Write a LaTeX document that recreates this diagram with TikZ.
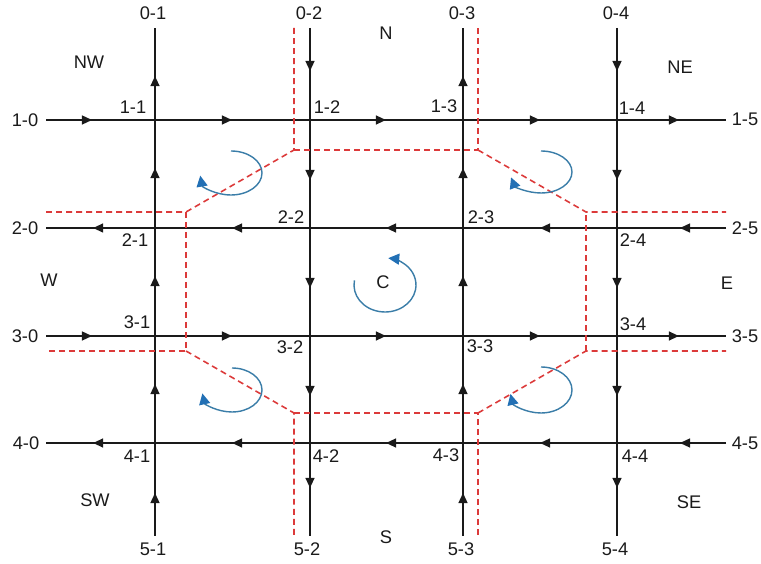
\documentclass[tikz,border=0pt]{standalone}
\usepackage{fontspec}
\setmainfont{Liberation Sans}
\usetikzlibrary{arrows.meta,decorations.markings}
\definecolor{roadblack}{HTML}{1A1A1A}
\definecolor{zonered}{HTML}{DC3A3A}
\definecolor{turnblue}{HTML}{3A7DA8}
\definecolor{tipblue}{HTML}{2270B5}
\tikzset{
  % roads
  hroad/.style={draw=roadblack,line width=0.75pt,postaction={decorate},
    decoration={markings,
      mark=at position 0.92cm with {\arrow{Triangle[length=2mm,width=1.8mm]}},
      mark=at position 3.72cm with {\arrow{Triangle[length=2mm,width=1.8mm]}},
      mark=at position 6.8cm with {\arrow{Triangle[length=2mm,width=1.8mm]}},
      mark=at position 9.88cm with {\arrow{Triangle[length=2mm,width=1.8mm]}},
      mark=at position 12.66cm with {\arrow{Triangle[length=2mm,width=1.8mm]}}}},
  vroad/.style={draw=roadblack,line width=0.75pt,postaction={decorate},
    decoration={markings,
      mark=at position 0.86cm with {\arrow{Triangle[length=2mm,width=1.8mm]}},
      mark=at position 3.04cm with {\arrow{Triangle[length=2mm,width=1.8mm]}},
      mark=at position 5.2cm with {\arrow{Triangle[length=2mm,width=1.8mm]}},
      mark=at position 7.36cm with {\arrow{Triangle[length=2mm,width=1.8mm]}},
      mark=at position 9.2cm with {\arrow{Triangle[length=2mm,width=1.8mm]}}}},
  % zones
  zone/.style={draw=zonered,line width=0.9pt,dash pattern=on 3.4pt off 2.3pt},
  turn/.style={draw=turnblue,line width=0.8pt,
               -{Triangle[length=2.2mm,width=2.2mm,color=tipblue]}},
  lbl/.style={font=\fontsize{10.4}{12}\selectfont,text=roadblack,inner sep=1pt},
}
\begin{document}
\begin{tikzpicture}[x=0.02cm,y=0.02cm]
  \useasboundingbox (0,0) rectangle (761,564);
  % grid points
  \coordinate (p01) at (155,536);
  \coordinate (p02) at (310,536);
  \coordinate (p03) at (463,536);
  \coordinate (p04) at (617,536);
  \coordinate (p10) at (46,444);
  \coordinate (p11) at (155,444);
  \coordinate (p12) at (310,444);
  \coordinate (p13) at (463,444);
  \coordinate (p14) at (617,444);
  \coordinate (p15) at (726,444);
  \coordinate (p20) at (46,336);
  \coordinate (p21) at (155,336);
  \coordinate (p22) at (310,336);
  \coordinate (p23) at (463,336);
  \coordinate (p24) at (617,336);
  \coordinate (p25) at (726,336);
  \coordinate (p30) at (46,228);
  \coordinate (p31) at (155,228);
  \coordinate (p32) at (310,228);
  \coordinate (p33) at (463,228);
  \coordinate (p34) at (617,228);
  \coordinate (p35) at (726,228);
  \coordinate (p40) at (46,121);
  \coordinate (p41) at (155,121);
  \coordinate (p42) at (310,121);
  \coordinate (p43) at (463,121);
  \coordinate (p44) at (617,121);
  \coordinate (p45) at (726,121);
  \coordinate (p51) at (155,28);
  \coordinate (p52) at (310,28);
  \coordinate (p53) at (463,28);
  \coordinate (p54) at (617,28);
  % roads
  \draw[hroad] (p10) -- (p11) -- (p12) -- (p13) -- (p14) -- (p15);
  \draw[hroad] (p25) -- (p24) -- (p23) -- (p22) -- (p21) -- (p20);
  \draw[hroad] (p30) -- (p31) -- (p32) -- (p33) -- (p34) -- (p35);
  \draw[hroad] (p45) -- (p44) -- (p43) -- (p42) -- (p41) -- (p40);
  \draw[vroad] (p51) -- (p41) -- (p31) -- (p21) -- (p11) -- (p01);
  \draw[vroad] (p02) -- (p12) -- (p22) -- (p32) -- (p42) -- (p52);
  \draw[vroad] (p53) -- (p43) -- (p33) -- (p23) -- (p13) -- (p03);
  \draw[vroad] (p04) -- (p14) -- (p24) -- (p34) -- (p44) -- (p54);
  % zone border
  \coordinate (zA) at (294,414);
  \coordinate (zB) at (186,352);
  \coordinate (zC) at (186,213);
  \coordinate (zD) at (294,151);
  \coordinate (zE) at (478,151);
  \coordinate (zF) at (586,213);
  \coordinate (zG) at (586,352);
  \coordinate (zH) at (478,414);
  \draw[zone] (294,536) -- (zA) -- (zB) -- (46,352);
  \draw[zone] (zA) -- (zH) -- (478,536);
  \draw[zone] (zH) -- (zG) -- (726,352);
  \draw[zone] (zB) -- (zC) -- (46,213);
  \draw[zone] (zC) -- (zD) -- (294,28);
  \draw[zone] (zD) -- (zE) -- (478,28);
  \draw[zone] (zE) -- (zF) -- (726,213);
  \draw[zone] (zF) -- (zG);
  % turning arrows
  \coordinate (tNW) at (231,391);
  \coordinate (tNE) at (541,392);
  \coordinate (tSW) at (232,174);
  \coordinate (tSE) at (541,174);
  \coordinate (tC) at (385,279);
  \draw[turn] (tNW) ++(90:31 and 22) arc[start angle=90,end angle=-173,x radius=31,y radius=22];
  \draw[turn] (tNE) ++(90:31 and 21) arc[start angle=90,end angle=-165,x radius=31,y radius=21];
  \draw[turn] (tSW) ++(90:30 and 22) arc[start angle=90,end angle=-171,x radius=30,y radius=22];
  \draw[turn] (tSE) ++(90:31 and 23) arc[start angle=90,end angle=-170,x radius=31,y radius=23];
  \draw[turn] (tC) ++(170:31 and 27) arc[start angle=170,end angle=444,x radius=31,y radius=27];
  % end labels
  \node[lbl] (l01) at (153,551) {0-1};
  \node[lbl] (l02) at (309,551) {0-2};
  \node[lbl] (l03) at (462,551) {0-3};
  \node[lbl] (l04) at (616,551) {0-4};
  \node[lbl] (l51) at (153,15) {5-1};
  \node[lbl] (l52) at (307,15) {5-2};
  \node[lbl] (l53) at (461,15) {5-3};
  \node[lbl] (l54) at (615,15) {5-4};
  \node[lbl] (l10) at (25,444) {1-0};
  \node[lbl] (l20) at (25,336) {2-0};
  \node[lbl] (l30) at (25,228) {3-0};
  \node[lbl] (l40) at (26,121) {4-0};
  \node[lbl] (l15) at (745,445) {1-5};
  \node[lbl] (l25) at (745,336) {2-5};
  \node[lbl] (l35) at (745,228) {3-5};
  \node[lbl] (l45) at (745,121) {4-5};
  % crossing labels
  \node[lbl] (l11) at (133,457) {1-1};
  \node[lbl] (l12) at (327,457) {1-2};
  \node[lbl] (l13) at (444,458) {1-3};
  \node[lbl] (l14) at (632,456) {1-4};
  \node[lbl] (l21) at (135,324) {2-1};
  \node[lbl] (l22) at (291,347) {2-2};
  \node[lbl] (l23) at (481,347) {2-3};
  \node[lbl] (l24) at (633,324) {2-4};
  \node[lbl] (l31) at (137,242) {3-1};
  \node[lbl] (l32) at (290,217) {3-2};
  \node[lbl] (l33) at (480,218) {3-3};
  \node[lbl] (l34) at (633,240) {3-4};
  \node[lbl] (l41) at (137,108) {4-1};
  \node[lbl] (l42) at (326,108) {4-2};
  \node[lbl] (l43) at (446,109) {4-3};
  \node[lbl] (l44) at (635,108) {4-4};
  % regions
  \node[lbl] (rNW) at (89,502) {NW};
  \node[lbl] (rN) at (386,531) {N};
  \node[lbl] (rNE) at (680,497) {NE};
  \node[lbl] (rW) at (49,284) {W};
  \node[lbl] (rC) at (383,282) {C};
  \node[lbl] (rE) at (727,281) {E};
  \node[lbl] (rSW) at (95,64) {SW};
  \node[lbl] (rS) at (386,27) {S};
  \node[lbl] (rSE) at (689,62) {SE};
\end{tikzpicture}
\end{document}
